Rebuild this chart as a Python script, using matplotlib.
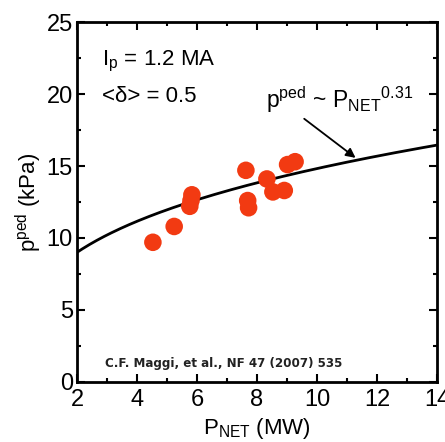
import numpy as np
import matplotlib.pyplot as plt
from matplotlib.ticker import MultipleLocator

plt.rcParams['font.family'] = ['Liberation Sans', 'DejaVu Sans']
plt.rcParams['mathtext.fontset'] = 'custom'
plt.rcParams['mathtext.rm'] = 'Liberation Sans'
plt.rcParams['mathtext.it'] = 'Liberation Sans'

# pedestal pressure vs net heating power
p_net = [4.53, 5.24, 5.76, 5.80, 5.83, 7.63, 7.69, 7.72, 8.33, 8.53, 8.91, 9.02, 9.27]
p_ped = [9.7, 10.8, 12.2, 12.6, 13.0, 14.7, 12.6, 12.1, 14.1, 13.2, 13.3, 15.1, 15.3]

# scaling fit p_ped ~ C * P_NET^0.31
fit_exp = 0.31
fit_coef = 7.26
fit_range = [2, 14]

fig = plt.figure(figsize=(4.45, 4.42), dpi=100)
ax = fig.add_axes([0.173, 0.136, 0.809, 0.814])

xf = np.linspace(fit_range[0], fit_range[1], 200)
ax.plot(xf, fit_coef*xf**fit_exp, color='black', linewidth=2)
ax.scatter(p_net, p_ped, s=160, color='#f23a12', edgecolors='none', zorder=3)

ax.set_xlim(2, 14)
ax.set_ylim(0, 25)
ax.xaxis.set_major_locator(MultipleLocator(2))
ax.xaxis.set_minor_locator(MultipleLocator(1))
ax.yaxis.set_major_locator(MultipleLocator(5))
ax.yaxis.set_minor_locator(MultipleLocator(2.5))
ax.tick_params(which='both', direction='in', top=True, right=True, width=1.5, labelsize=17)
ax.tick_params(which='major', length=6)
ax.tick_params(which='minor', length=3)
ax.tick_params(axis='x', pad=5)
ax.tick_params(axis='y', pad=3)
for s in ax.spines.values():
    s.set_linewidth(2)

ax.set_xlabel(r'P$_{\mathrm{NET}}$ (MW)', fontsize=16, labelpad=4)
ax.set_ylabel(r'p$^{\mathrm{ped}}$ (kPa)', fontsize=16, labelpad=2)

ax.text(2.85, 22.3, r'I$_{\mathrm{p}}$ = 1.2 MA', fontsize=16, va='center')
ax.text(2.85, 19.8, '<δ> = 0.5', fontsize=16, va='center')
ax.text(8.3, 19.6, r'p$^{\mathrm{ped}}$ ~ P$_{\mathrm{NET}}$$^{0.31}$', fontsize=16.5, va='center')
ax.annotate('', xy=(11.36, 15.45), xytext=(9.5, 18.4),
            arrowprops=dict(arrowstyle='-|>', color='black', lw=1.3, mutation_scale=14))
ax.text(2.95, 1.3, 'C.F. Maggi, et al., NF 47 (2007) 535', fontsize=8.6,
        fontweight='bold', family=['DejaVu Sans'], va='center', color='#222222')

fig.savefig('out.png', dpi=100)
